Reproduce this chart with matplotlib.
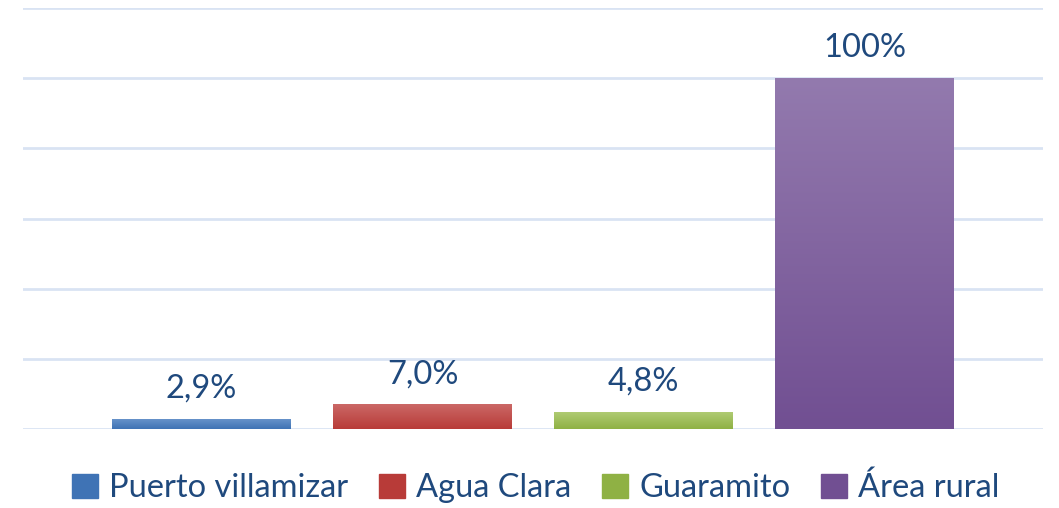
import matplotlib
matplotlib.use("Agg")
import matplotlib.pyplot as plt
import matplotlib.colors as mcolors
import numpy as np

# ── Data ───────────────────────────────────────────────────────────────────────
categories = ["Puerto villamizar", "Agua Clara", "Guaramito", "Área rural"]
values = [2.9, 7.0, 4.8, 100.0]
value_labels = ["2,9%", "7,0%", "4,8%", "100%"]

# (top, bottom) colours of each gradient bar
bar_colors = [("#6A95CB", "#3F73B5"),
              ("#CB6866", "#B83B38"),
              ("#AFCB73", "#8FB144"),
              ("#937AAE", "#714F92")]
TEXT = "#1F497D"
GRID = "#D9E3F3"

plt.rcParams["font.family"] = ["Lato", "DejaVu Sans"]

fig = plt.figure(figsize=(10.59, 5.08), dpi=100)
ax = fig.add_axes([23 / 1059, 1 - 429 / 508, 1020 / 1059, 421 / 508])

x = np.arange(len(categories))
bars = ax.bar(x, values, width=0.81, color=[c[1] for c in bar_colors],
              zorder=2, linewidth=0)

# gradient fill, clipped to each bar
for bar, (top, bot) in zip(bars, bar_colors):
    cmap = mcolors.LinearSegmentedColormap.from_list("g", [bot, top])
    grad = np.linspace(0, 1, 256).reshape(-1, 1)
    x0, y0 = bar.get_x(), bar.get_y()
    im = ax.imshow(grad, cmap=cmap, aspect="auto", origin="lower",
                   extent=[x0, x0 + bar.get_width(), y0, y0 + bar.get_height()],
                   zorder=3)
    im.set_clip_path(bar)

for xi, v, lbl in zip(x, values, value_labels):
    ax.annotate(lbl, (xi, v), xytext=(0, 11), textcoords="offset points",
                ha="center", va="bottom", fontsize=23.5, color=TEXT)

ax.set_xlim(-0.808, 3.808)
ax.set_ylim(0, 120)
ax.set_yticks(np.arange(0, 121, 20))
ax.yaxis.grid(True, color=GRID, linewidth=2)
ax.set_axisbelow(True)
ax.set_xticks([])
ax.tick_params(left=False, labelleft=False)
for s in ax.spines.values():
    s.set_visible(False)

handles = [plt.Rectangle((0, 0), 1, 1, color=c[1]) for c in bar_colors]
fig.legend(handles, categories, loc="center", bbox_to_anchor=(0.506, 1 - 488 / 508),
           ncol=4, frameon=False, fontsize=23.5, labelcolor=TEXT,
           handlelength=0.78, handleheight=0.78, handletextpad=0.35,
           columnspacing=0.95)

fig.savefig("out.png", dpi=100)
